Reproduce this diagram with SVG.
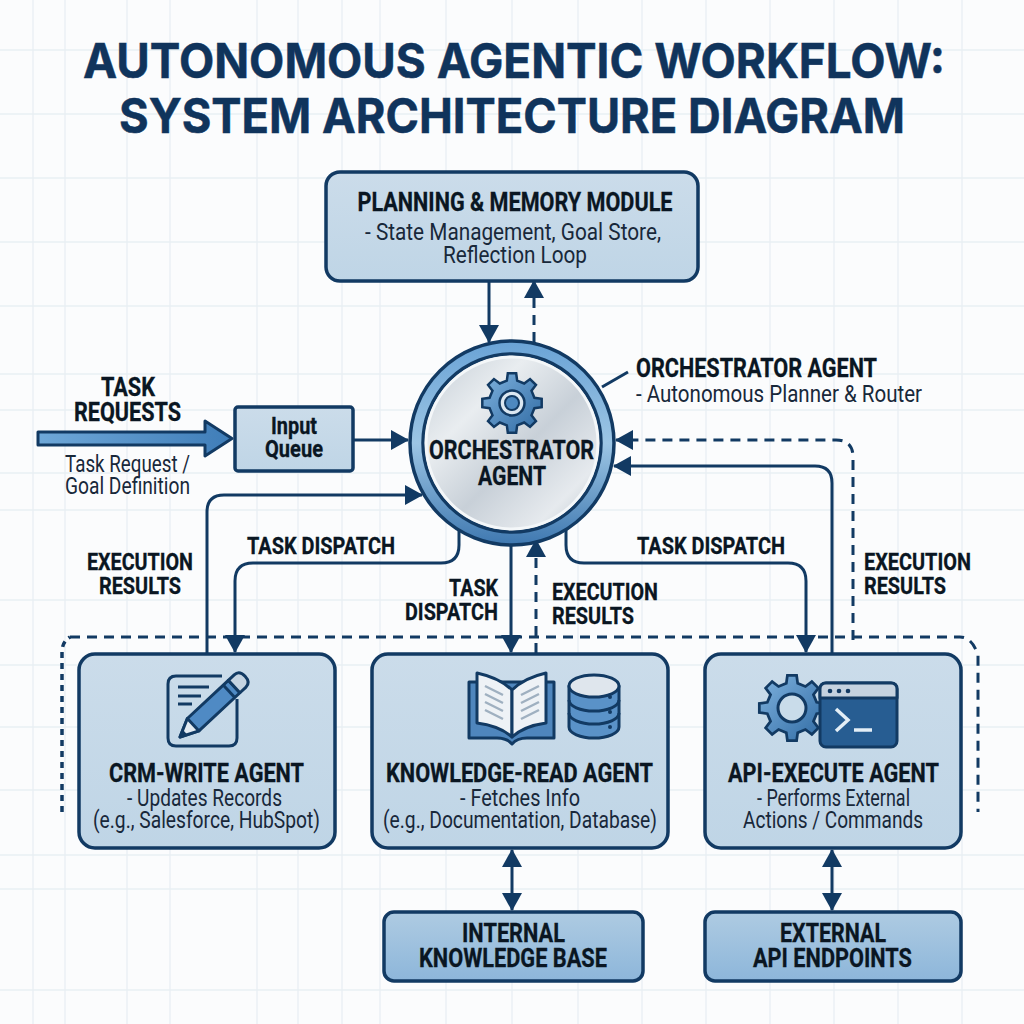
<svg xmlns="http://www.w3.org/2000/svg" width="1024" height="1024" viewBox="0 0 1024 1024">
<defs>
<style>
text{font-family:Roboto,"Liberation Sans",sans-serif;fill:#0a1622;text-anchor:middle}
.t{font-family:Inter,Roboto,"Liberation Sans",sans-serif;font-weight:700;font-size:48px;fill:#10345c;stroke:#10345c;stroke-width:.5}
.b{font-weight:700;font-size:26px;stroke:#0a1622;stroke-width:.3}
.s{font-weight:700;font-size:24px;stroke:#0a1622;stroke-width:.3}
.r{font-weight:400;font-size:23.500px;fill:#18283a}
.box{stroke:#123a63;stroke-width:3.5}
.ln{fill:none;stroke:#123a63;stroke-width:3}
.ds{fill:none;stroke:#123a63;stroke-width:3;stroke-dasharray:10 7}
.hd{fill:#123a63}
.ic{stroke:#123a63;stroke-width:3;stroke-linejoin:round}
.grid{stroke:#e9eff4;stroke-width:1.3}
</style>
<linearGradient id="lt" x1="0" y1="0" x2="0" y2="1"><stop offset="0" stop-color="#cbdcea"/><stop offset="1" stop-color="#bfd5e6"/></linearGradient>
<linearGradient id="dk" x1="0" y1="0" x2="0" y2="1"><stop offset="0" stop-color="#aecbe2"/><stop offset="1" stop-color="#8db6da"/></linearGradient>
<linearGradient id="ring" x1="0" y1="0" x2="0" y2="1"><stop offset="0" stop-color="#6aa3d6"/><stop offset=".5" stop-color="#9cc5e4"/><stop offset="1" stop-color="#3f78b0"/></linearGradient>
<linearGradient id="steel" x1="0" y1="0" x2="1" y2="1"><stop offset="0" stop-color="#c3ccd5"/><stop offset=".3" stop-color="#e9edf0"/><stop offset=".55" stop-color="#c8d0d8"/><stop offset=".8" stop-color="#e6eaee"/><stop offset="1" stop-color="#b6c0ca"/></linearGradient>
<linearGradient id="arr" x1="0" y1="0" x2="1" y2="0"><stop offset="0" stop-color="#6fa8d8"/><stop offset="1" stop-color="#3f7db8"/></linearGradient>
<linearGradient id="gear" x1="0" y1="0" x2="1" y2="1"><stop offset="0" stop-color="#7fb2de"/><stop offset="1" stop-color="#2f6aa3"/></linearGradient>
<path id="g" d="M-5.17,-22.41 L-4.18,-29.7 4.18,-29.7 5.17,-22.41 12.19,-19.5 18.05,-23.96 23.96,-18.05 19.5,-12.19 22.41,-5.17 29.7,-4.18 29.7,4.18 22.41,5.17 19.5,12.19 23.96,18.05 18.05,23.96 12.19,19.5 5.17,22.41 4.18,29.7 -4.18,29.7 -5.17,22.41 -12.19,19.5 -18.05,23.96 -23.96,18.05 -19.5,12.19 -22.41,5.17 -29.7,4.18 -29.7,-4.18 -22.41,-5.17 -19.5,-12.19 -23.96,-18.05 -18.05,-23.96 -12.19,-19.5 Z"/>
<marker id="a" markerUnits="userSpaceOnUse" markerWidth="18" markerHeight="20" refX="17" refY="10" orient="auto-start-reverse"><path class="hd" d="M0,0 L18,10 L0,20 Z"/></marker>
</defs>
<rect width="1024" height="1024" fill="#fbfcfd"/>
<g id="grid" class="grid">
<path d="M33 0V1024M65 0V1024M127 0V1024M170 0V1024M257 0V1024M298 0V1024M342 0V1024M380 0V1024M446 0V1024M512 0V1024M578 0V1024M642 0V1024M706 0V1024M770 0V1024M834 0V1024M898 0V1024M962 0V1024"/>
<path d="M0 50H1024M0 114H1024M0 178H1024M0 242H1024M0 306H1024M0 374H1024M0 410H1024M0 473H1024M0 510H1024M0 600H1024M0 665H1024M0 727H1024M0 790H1024M0 855H1024M0 889H1024M0 990H1024"/>
</g>
<g id="title">
<text class="t" x="514" y="78" textLength="862" lengthAdjust="spacingAndGlyphs">AUTONOMOUS AGENTIC WORKFLOW:</text>
<text class="t" x="512" y="133" textLength="786" lengthAdjust="spacingAndGlyphs">SYSTEM ARCHITECTURE DIAGRAM</text>
</g>
<g id="connectors">
<path class="ds" d="M70 637H960Q972 637 978 655V812"/>
<path class="ds" d="M62 812V652Q62 642 70 637" style="stroke-width:3.5;stroke-dasharray:6 5"/>
<path class="ln" d="M489 281V342" marker-end="url(#a)"/>
<path class="ds" d="M534 342V281" marker-end="url(#a)"/>
<path class="ln" d="M602 387L628 372"/>
<path class="ln" d="M353 440H408" marker-end="url(#a)"/>
<path class="ln" d="M207 653V512Q207 495 224 495H422" marker-end="url(#a)"/>
<path class="ln" d="M459 530V545Q459 563 441 563H253Q235 563 235 581V652" marker-end="url(#a)"/>
<path class="ln" d="M511 543V652" marker-end="url(#a)"/>
<path class="ds" d="M536 653V540" marker-end="url(#a)"/>
<path class="ln" d="M566 530V545Q566 563 584 563H788Q806 563 806 581V652" marker-end="url(#a)"/>
<path class="ln" d="M832 653V483Q832 466 815 466H614" marker-end="url(#a)"/>
<path class="ds" d="M853 640V457Q853 440 836 440H616" marker-end="url(#a)"/>
<path class="ln" d="M512 850V910" marker-start="url(#a)" marker-end="url(#a)"/>
<path class="ln" d="M832 850V910" marker-start="url(#a)" marker-end="url(#a)"/>
<path d="M38 432H205V421L232 438.500L205 456V445H38Z" fill="url(#arr)" stroke="#123a63" stroke-width="3" stroke-linejoin="round"/>
</g>
<g id="planning">
<rect class="box" x="326" y="172" width="372" height="109" rx="14" fill="url(#lt)"/>
<text class="b" x="515" y="211" textLength="315" lengthAdjust="spacingAndGlyphs">PLANNING &amp; MEMORY MODULE</text>
<text class="r" x="513" y="240" textLength="296" lengthAdjust="spacingAndGlyphs">- State Management, Goal Store,</text>
<text class="r" x="515" y="263" textLength="144" lengthAdjust="spacingAndGlyphs">Reflection Loop</text>
</g>
<g id="orchestrator">
<circle cx="512" cy="443" r="102" fill="url(#ring)" stroke="#123a63" stroke-width="3.5"/>
<circle cx="512" cy="443" r="89" fill="url(#steel)" stroke="#123a63" stroke-width="3.500"/>
<circle cx="512" cy="443" r="86" fill="none" stroke="#f4f7f9" stroke-width="3"/>
<use href="#g" transform="translate(512 403)" fill="url(#gear)" stroke="#123a63" stroke-width="2.500"/>
<circle cx="512" cy="403" r="12.500" fill="#dbe7f1" stroke="#123a63" stroke-width="2.500"/>
<circle cx="512" cy="403" r="7" fill="#4d88bf" stroke="#123a63" stroke-width="2"/>
<text class="b" x="511.500" y="459" textLength="165" lengthAdjust="spacingAndGlyphs">ORCHESTRATOR</text>
<text class="b" x="512" y="485" textLength="68" lengthAdjust="spacingAndGlyphs">AGENT</text>
</g>
<g id="orchestrator-label">
<text class="b" x="756.500" y="377" textLength="241" lengthAdjust="spacingAndGlyphs">ORCHESTRATOR AGENT</text>
<text class="r" x="779" y="402" textLength="286" lengthAdjust="spacingAndGlyphs">- Autonomous Planner &amp; Router</text>
</g>
<g id="task-requests">
<text class="b" x="128" y="396" textLength="54" lengthAdjust="spacingAndGlyphs">TASK</text>
<text class="b" x="127.500" y="421" textLength="107" lengthAdjust="spacingAndGlyphs">REQUESTS</text>
<text class="r" x="127.500" y="472" textLength="125" lengthAdjust="spacingAndGlyphs">Task Request /</text>
<text class="r" x="127.500" y="494" textLength="125" lengthAdjust="spacingAndGlyphs">Goal Definition</text>
</g>
<g id="input-queue">
<rect class="box" x="235" y="407" width="118" height="64" rx="3" fill="url(#lt)"/>
<text class="s" x="294" y="434" textLength="46" lengthAdjust="spacingAndGlyphs">Input</text>
<text class="s" x="294" y="457" textLength="58" lengthAdjust="spacingAndGlyphs">Queue</text>
</g>
<g id="connector-labels">
<text class="s" x="140" y="570" textLength="106" lengthAdjust="spacingAndGlyphs">EXECUTION</text>
<text class="s" x="140" y="594" textLength="82" lengthAdjust="spacingAndGlyphs">RESULTS</text>
<text class="s" x="321" y="554" textLength="148" lengthAdjust="spacingAndGlyphs">TASK DISPATCH</text>
<text class="s" x="473.500" y="596" textLength="49" lengthAdjust="spacingAndGlyphs">TASK</text>
<text class="s" x="451.500" y="620" textLength="93" lengthAdjust="spacingAndGlyphs">DISPATCH</text>
<text class="s" x="605" y="600" textLength="106" lengthAdjust="spacingAndGlyphs">EXECUTION</text>
<text class="s" x="593" y="624" textLength="82" lengthAdjust="spacingAndGlyphs">RESULTS</text>
<text class="s" x="711" y="554" textLength="148" lengthAdjust="spacingAndGlyphs">TASK DISPATCH</text>
<text class="s" x="917.500" y="570" textLength="107" lengthAdjust="spacingAndGlyphs">EXECUTION</text>
<text class="s" x="905" y="594" textLength="82" lengthAdjust="spacingAndGlyphs">RESULTS</text>
</g>
<g id="crm-agent">
<rect class="box" x="79" y="654" width="256" height="194" rx="16" fill="url(#lt)"/>
<path class="ln" d="M222 676H176Q168 676 168 684V738Q168 746 176 746H229Q237 746 237 738V699"/>
<path class="ln" d="M178 687H209M178 696H201M178 704H192"/>
<g transform="translate(180 737) rotate(-43)">
<path class="ic" d="M0,0L18,-8.500H74V8.500H18Z" fill="#4f8ac4"/>
<path class="ic" d="M0,0L18,-8.500V8.500Z" fill="#e3ebf2"/>
<path d="M0,0L7,-3.500V3.500Z" fill="#123a63"/>
<path class="ic" d="M74,-8.500H82Q89,-8.500 89,0Q89,8.500 82,8.500H74Z" fill="#c5d4e2"/>
<path class="ln" d="M67,-8.500V8.500"/>
</g>
<text class="b" x="206.500" y="782" textLength="195" lengthAdjust="spacingAndGlyphs">CRM-WRITE AGENT</text>
<text class="r" x="204.500" y="806" textLength="155" lengthAdjust="spacingAndGlyphs">- Updates Records</text>
<text class="r" x="206.500" y="828" textLength="227" lengthAdjust="spacingAndGlyphs">(e.g., Salesforce, HubSpot)</text>
</g>
<g id="knowledge-agent">
<rect class="box" x="372" y="654" width="296" height="194" rx="16" fill="url(#lt)"/>
<path class="ic" d="M469 682H554V738H527Q517 738 512 744Q507 738 497 738H469Z" fill="#4f86bd"/>
<path class="ic" d="M477 673Q500 678 512 690V737Q500 726 477 723Z" fill="#eef2f6"/>
<path class="ic" d="M546 673Q524 678 512 690V737Q524 726 546 723Z" fill="#eef2f6"/>
<path d="M485 686L503 695M485 694L503 703M485 702L503 711M485 710L503 719M539 686L521 695M539 694L521 703M539 702L521 711M539 710L521 719" fill="none" stroke="#9fb0c0" stroke-width="2.500"/>
<path class="ic" d="M569 686V727A25 11 0 0 0 619 727V686Z" fill="#5a92c8"/>
<ellipse class="ic" cx="594" cy="686" rx="25" ry="11" fill="#dfe6ed"/>
<path class="ln" d="M569 700A25 11 0 0 0 619 700M569 713A25 11 0 0 0 619 713"/>
<circle class="hd" cx="610" cy="697" r="2"/><circle class="hd" cx="610" cy="712" r="2"/><circle class="hd" cx="610" cy="727" r="2"/>
<text class="b" x="519.500" y="782" textLength="267" lengthAdjust="spacingAndGlyphs">KNOWLEDGE-READ AGENT</text>
<text class="r" x="520" y="806" textLength="120" lengthAdjust="spacingAndGlyphs">- Fetches Info</text>
<text class="r" x="520" y="828" textLength="274" lengthAdjust="spacingAndGlyphs">(e.g., Documentation, Database)</text>
</g>
<g id="api-agent">
<rect class="box" x="705" y="654" width="256" height="194" rx="16" fill="url(#lt)"/>
<use href="#g" transform="translate(792 708) scale(1.100)" fill="url(#gear)" stroke="#123a63" stroke-width="2.500"/>
<circle cx="792" cy="708" r="14" fill="#c9dcea" stroke="#123a63" stroke-width="3"/>
<rect class="ic" x="820" y="683" width="77" height="64" rx="6" fill="#275d92"/>
<path class="ic" d="M820 698V689Q820 683 826 683H891Q897 683 897 689V698Z" fill="#c5d2df"/>
<circle class="hd" cx="830" cy="691" r="2.300"/><circle class="hd" cx="839" cy="691" r="2.300"/><circle class="hd" cx="848" cy="691" r="2.300"/>
<path d="M836 709L848 720L836 731" fill="none" stroke="#e3eef6" stroke-width="3.500"/>
<path d="M854 730H872" stroke="#e3eef6" stroke-width="3.500"/>
<text class="b" x="833.500" y="782" textLength="211" lengthAdjust="spacingAndGlyphs">API-EXECUTE AGENT</text>
<text class="r" x="833.500" y="806" textLength="153" lengthAdjust="spacingAndGlyphs">- Performs External</text>
<text class="r" x="833" y="828" textLength="180" lengthAdjust="spacingAndGlyphs">Actions / Commands</text>
</g>
<g id="internal-kb">
<rect class="box" x="384" y="912" width="259" height="69" rx="10" fill="url(#dk)"/>
<text class="b" x="513.500" y="942" textLength="103" lengthAdjust="spacingAndGlyphs">INTERNAL</text>
<text class="b" x="513" y="967" textLength="188" lengthAdjust="spacingAndGlyphs">KNOWLEDGE BASE</text>
</g>
<g id="external-api">
<rect class="box" x="705" y="912" width="256" height="69" rx="10" fill="url(#dk)"/>
<text class="b" x="833" y="942" textLength="106" lengthAdjust="spacingAndGlyphs">EXTERNAL</text>
<text class="b" x="832.500" y="967" textLength="159" lengthAdjust="spacingAndGlyphs">API ENDPOINTS</text>
</g>
</svg>
